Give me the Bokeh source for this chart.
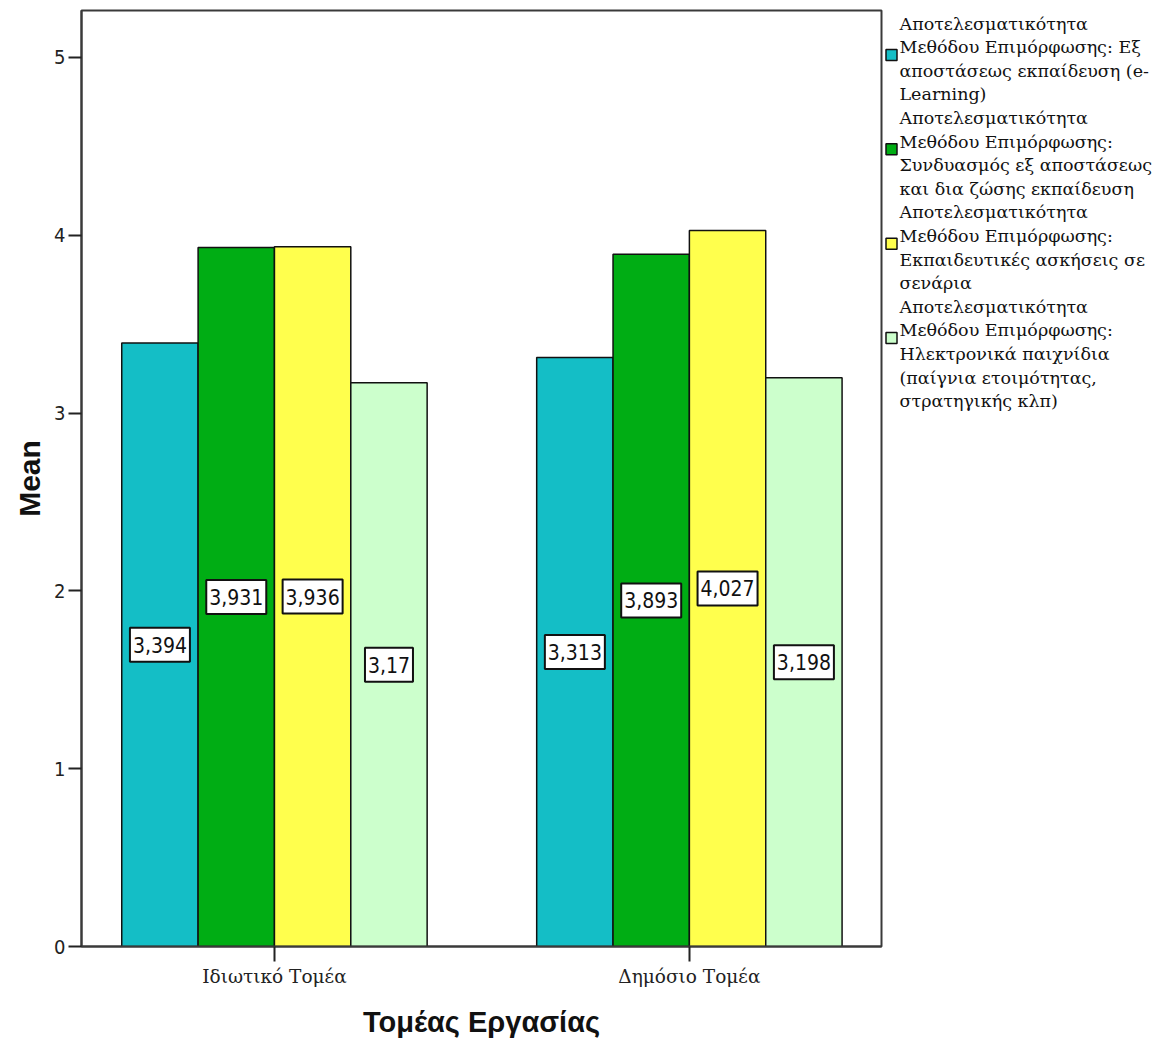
from bokeh.plotting import figure
from bokeh.layouts import row
from bokeh.models import ColumnDataSource, Range1d, FixedTicker
from bokeh.transform import dodge
from bokeh.core.properties import value
from bokeh.embed import file_html
from bokeh.resources import INLINE

# ---- data -------------------------------------------------------------
categories = ["Ιδιωτικό Τομέα", "Δημόσιο Τομέα"]

series_names = [
    "Αποτελεσματικότητα\nΜεθόδου Επιμόρφωσης: Εξ\nαποστάσεως  εκπαίδευση (e-\nLearning)",
    "Αποτελεσματικότητα\nΜεθόδου Επιμόρφωσης:\nΣυνδυασμός εξ αποστάσεως\nκαι δια ζώσης εκπαίδευση",
    "Αποτελεσματικότητα\nΜεθόδου Επιμόρφωσης:\nΕκπαιδευτικές ασκήσεις σε\nσενάρια",
    "Αποτελεσματικότητα\nΜεθόδου Επιμόρφωσης:\nΗλεκτρονικά παιχνίδια\n(παίγνια ετοιμότητας,\nστρατηγικής κλπ)",
]

elearning = [3.394, 3.313]
blended = [3.931, 3.893]
scenarios = [3.936, 4.027]
games = [3.170, 3.198]

series_values = [elearning, blended, scenarios, games]
series_colors = ["#14BEC6", "#00AD14", "#FFFF4D", "#CCFFCC"]

y_ticks = [0, 1, 2, 3, 4, 5]

# ---- styling constants -------------------------------------------------
BAR_W = 0.184
FRAME_L, FRAME_W, FRAME_T, FRAME_H = 81, 800, 10, 936
MAIN_W = FRAME_L + FRAME_W + 3
TOTAL_W, TOTAL_H = 1168, 1041
FRAME_B = TOTAL_H - FRAME_T - FRAME_H


def fmt(v):
    s = f"{v:.3f}".rstrip("0").rstrip(".")
    return s.replace(".", ",")


cat_pos = [i + 0.5 for i in range(len(categories))]

p = figure(
    width=MAIN_W, height=TOTAL_H,
    x_range=Range1d(0.035, 1.963), y_range=Range1d(0, 5.264),
    output_backend="svg", toolbar_location=None,
    min_border_left=FRAME_L, min_border_right=3,
    min_border_top=FRAME_T, min_border_bottom=FRAME_B,
)
p.xgrid.visible = False
p.ygrid.visible = False
p.outline_line_color = "#3a3a3a"
p.outline_line_width = 2
p.background_fill_color = "white"
p.border_fill_color = "white"

n = len(series_values)
for i, (vals, col) in enumerate(zip(series_values, series_colors)):
    off = (i - (n - 1) / 2) * BAR_W
    src = ColumnDataSource(dict(
        pos=cat_pos,
        top=vals,
        mid=[v / 2 for v in vals],
        lab=[fmt(v) for v in vals],
        bw=[12 * len(fmt(v)) for v in vals],
    ))
    p.vbar(x=dodge("pos", off, range=p.x_range), top="top", bottom=0,
           width=BAR_W, source=src, fill_color=col,
           line_color="#111111", line_width=1.5)
    # value boxes at half the bar height
    p.rect(x=dodge("pos", off, range=p.x_range), y="mid", width="bw", height=34,
           width_units="screen", height_units="screen", source=src,
           fill_color="white", line_color="#111111", line_width=2)
    p.text(x=dodge("pos", off, range=p.x_range), y="mid", text="lab", source=src,
           text_align="center", text_baseline="middle",
           text_font=value("DejaVu Sans Condensed"), text_font_size="21px",
           text_color="#111111")

# axes
p.yaxis.ticker = FixedTicker(ticks=y_ticks)
p.yaxis.minor_tick_line_color = None
p.yaxis.major_tick_in = 0
p.yaxis.major_tick_out = 13
p.yaxis.major_tick_line_width = 2
p.yaxis.major_tick_line_color = "#222222"
p.yaxis.axis_line_color = "#3a3a3a"
p.yaxis.axis_line_width = 2
p.yaxis.major_label_text_font = "DejaVu Sans Condensed"
p.yaxis.major_label_text_font_size = "20px"
p.yaxis.major_label_text_color = "#222222"
p.yaxis.major_label_standoff = 3
p.yaxis.axis_label = "Mean"
p.yaxis.axis_label_text_font = "Liberation Sans"
p.yaxis.axis_label_text_font_size = "30px"
p.yaxis.axis_label_text_font_style = "bold"
p.yaxis.axis_label_text_color = "#111111"
p.yaxis.axis_label_standoff = 5

p.xaxis.ticker = FixedTicker(ticks=cat_pos)
p.xaxis.major_label_overrides = {c: lab for c, lab in zip(cat_pos, categories)}
p.xaxis.minor_tick_line_color = None
p.xaxis.major_tick_in = 0
p.xaxis.major_tick_out = 15
p.xaxis.major_tick_line_width = 2
p.xaxis.major_tick_line_color = "#222222"
p.xaxis.axis_line_color = "#3a3a3a"
p.xaxis.axis_line_width = 2
p.xaxis.major_label_text_font = "DejaVu Serif"
p.xaxis.major_label_text_font_size = "18.5px"
p.xaxis.major_label_text_color = "#222222"
p.xaxis.major_label_standoff = 4
p.xaxis.axis_label = "Τομέας Εργασίας"
p.xaxis.axis_label_text_font = "Liberation Sans"
p.xaxis.axis_label_text_font_size = "29px"
p.xaxis.axis_label_text_font_style = "bold"
p.xaxis.axis_label_text_color = "#111111"
p.xaxis.axis_label_standoff = 16

# ---- legend panel (page-pixel coordinates inside an aligned frame) -----
LEG_W = TOTAL_W - MAIN_W
leg = figure(
    width=LEG_W, height=TOTAL_H,
    x_range=Range1d(0, LEG_W), y_range=Range1d(FRAME_T + FRAME_H, FRAME_T),
    output_backend="svg", toolbar_location=None,
    x_axis_location=None, y_axis_location=None,
    min_border_left=0, min_border_right=0,
    min_border_top=FRAME_T, min_border_bottom=FRAME_B,
)
leg.xgrid.visible = False
leg.ygrid.visible = False
leg.outline_line_color = None

LINE_H = 23.6
y0 = 23
tx, ty, tt = [], [], []
sx, sy, sc = [], [], []
line_idx = 0
for name, col in zip(series_names, series_colors):
    lines = name.split("\n")
    sx.append(7)
    sy.append(y0 + (line_idx + 1.33) * LINE_H)
    sc.append(col)
    for ln in lines:
        tx.append(15)
        ty.append(y0 + line_idx * LINE_H)
        tt.append(ln)
        line_idx += 1

leg.rect(x=sx, y=sy, width=11, height=11, fill_color=sc,
         line_color="#111111", line_width=1.5)
leg.text(x=tx, y=ty, text=tt, text_align="left", text_baseline="middle",
         text_font=value("DejaVu Serif"), text_font_size="17.5px",
         text_color="#111111")

layout = row(p, leg, spacing=0)
open("out.html", "w").write(file_html(layout, INLINE))
